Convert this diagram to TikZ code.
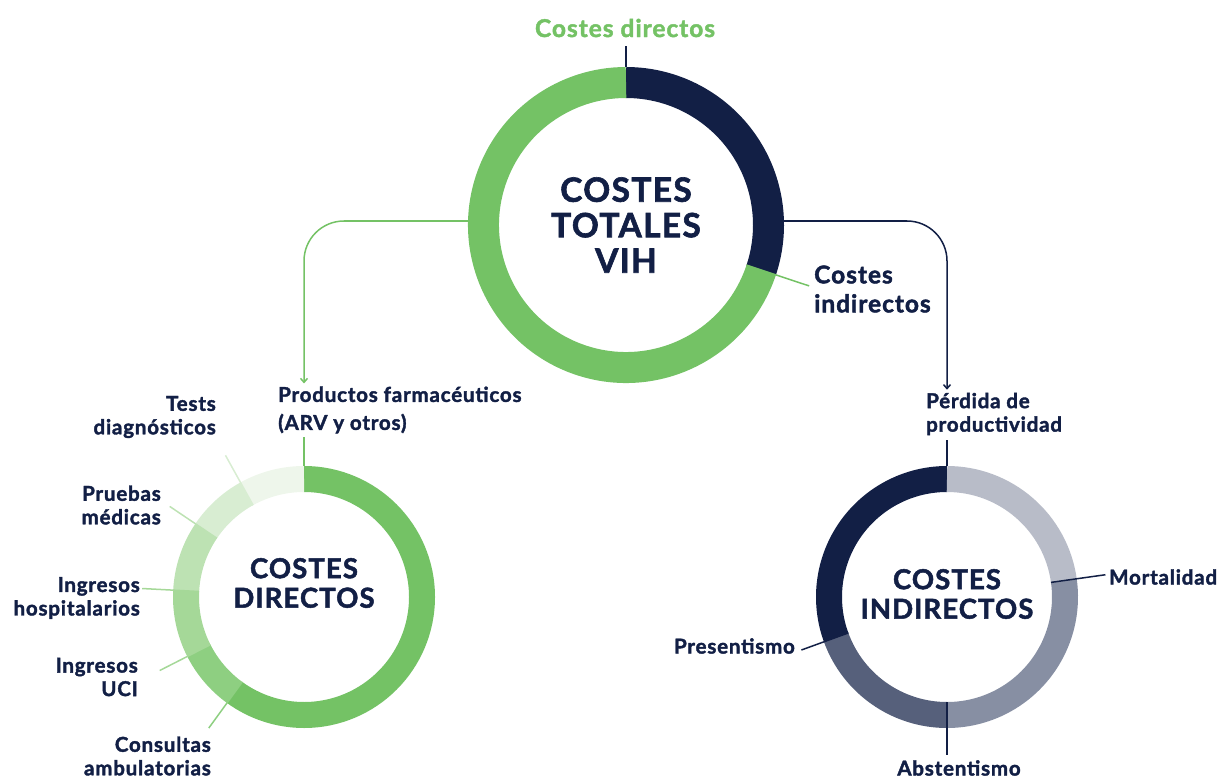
\documentclass[tikz,border=0pt]{standalone}
\usepackage{fontspec}
\setmainfont{Lato}[BoldFeatures={FakeBold=1.8, LetterSpace=4}]
\usetikzlibrary{arrows.meta}

\definecolor{vgreen}{HTML}{74C265}
\definecolor{vnavy}{HTML}{121F45}
\definecolor{gA}{HTML}{8ECF81}
\definecolor{gB}{HTML}{A5D898}
\definecolor{gC}{HTML}{BDE2B3}
\definecolor{gD}{HTML}{D8EDD2}
\definecolor{gE}{HTML}{EEF6EB}
\definecolor{nA}{HTML}{56607B}
\definecolor{nB}{HTML}{878FA3}
\definecolor{nC}{HTML}{B8BCC8}

\tikzstyle{bigtxt} = [font=\fontsize{33.5}{35.5}\selectfont\bfseries, text=vnavy, align=center, inner sep=0pt]
\tikzstyle{midtxt} = [font=\fontsize{27.5}{29.5}\selectfont\bfseries, text=vnavy, align=center, inner sep=0pt]
\tikzstyle{tagtxt} = [font=\fontsize{20.5}{23.5}\selectfont\bfseries, text=vnavy, inner sep=0pt]
\tikzstyle{hole} = [circle, inner sep=0pt]
\tikzstyle{conn} = [line width=1.5pt, rounded corners=40pt, -{Straight Barb[length=4pt,width=7pt]}]
\tikzstyle{lead} = [line width=1.5pt]

\begin{document}
\begin{tikzpicture}[x=1pt, y=-1pt]
	\useasboundingbox (0,0) rectangle (1223,778);

	\node [hole, minimum size=316pt, bigtxt] at (626,225) (tot) {COSTES\\TOTALES\\VIH};
	\node [hole, minimum size=262pt] at (304,597) (dirc) {};
	\node [midtxt] at (304,583) (dirt) {COSTES\\DIRECTOS};
	\node [hole, minimum size=262pt] at (947,597) (indc) {};
	\node [midtxt] at (947,594) (indt) {COSTES\\INDIRECTOS};

	\node [tagtxt, text=vgreen, font=\fontsize{24.5}{29}\selectfont\bfseries] at (625,28) (lcdir) {Costes directos};
	\node [tagtxt, font=\fontsize{24.5}{29}\selectfont\bfseries, anchor=west, align=left] at (814,289) (lcind) {Costes\\indirectos};
	\node [tagtxt, font=\fontsize{20.5}{28}\selectfont\bfseries, anchor=west, align=left] at (278,410) (lprod) {Productos farmacéuticos\\(ARV y otros)};
	\node [tagtxt, anchor=east, align=right] at (216,417) (ltest) {Tests\\diagnósticos};
	\node [tagtxt, anchor=east, align=right] at (161,505) (lprue) {Pruebas\\médicas};
	\node [tagtxt, anchor=east, align=right] at (140,598) (lhosp) {Ingresos\\hospitalarios};
	\node [tagtxt, anchor=east, align=right] at (138,677) (luci) {Ingresos\\UCI};
	\node [tagtxt, anchor=east, align=right] at (211,756) (lcons) {Consultas\\ambulatorias};
	\node [tagtxt, anchor=west, align=left] at (926,414) (lperd) {Pérdida de\\productividad};
	\node [tagtxt, anchor=west] at (1109,577) (lmort) {Mortalidad};
	\node [tagtxt, anchor=east] at (795,646) (lpres) {Presentismo};
	\node [tagtxt] at (959,768) (labs) {Abstentismo};

	% rings
	\draw [vnavy, line width=31pt] (tot.center) ++(90:142.5pt) arc [start angle=90, end angle=-18.4, radius=142.5pt];
	\draw [vgreen, line width=31pt] (tot.center) ++(-18.4:142.5pt) arc [start angle=-18.4, end angle=-270, radius=142.5pt];

	\foreach \a/\b/\c in {90/-126/vgreen, -126/-153/gA, -153/-183/gB, -183/-214/gC, -214/-241/gD, -241/-270/gE}
		\draw [\c, line width=26pt] (dirc.center) ++(\a:118pt) arc [start angle=\a, end angle=\b, radius=118pt];
	\foreach \a/\b/\c in {90/200/vnavy, 200/270/nA, 270/368/nB, 368/450/nC}
		\draw [\c, line width=26pt] (indc.center) ++(\a:118pt) arc [start angle=\a, end angle=\b, radius=118pt];

	% connectors
	\draw [vgreen, conn] ([yshift=4pt]tot.west) -| ([yshift=3pt]dirc.north |- lprod.north);
	\draw [vnavy, conn] ([yshift=4pt]tot.east) -| ([yshift=3pt]indc.north |- lperd.north);
	\draw [vgreen, lead, shorten >=3pt] (dirc.north) -- (dirc.north |- lprod.south);
	\draw [vnavy, lead, shorten >=5pt] (indc.north) -- (indc.north |- lperd.south);
	\draw [vnavy, lead, shorten >=9pt] (tot.north) -- (tot.north |- lcdir.south);

	% leaders
	\path (tot.center) ++(-18.4:127pt) coordinate (ci1) ++(-18.4:66pt) coordinate (ci2);
	\draw [vgreen, lead] (ci1) -- (ci2);
	\foreach \a/\c in {119/gD, 146/gC, 177/gB, 207/gB, 234/gA}
	{
		\path (dirc.center) ++(\a:105pt) coordinate (d\a) ++(\a:57pt) coordinate (e\a);
		\draw [\c, lead] (d\a) -- (e\a);
	}
	\path (indc.center) ++(8:105pt) coordinate (m1) ++(8:55pt) coordinate (m2);
	\path (indc.center) ++(200:105pt) coordinate (p1) ++(200:50pt) coordinate (p2);
	\path (indc.center) ++(270:105pt) coordinate (a1);
	\draw [vnavy, lead] (m1) -- (m2);
	\draw [vnavy, lead] (p1) -- (p2);
	\draw [vnavy, lead, shorten >=5pt] (a1) -- (a1 |- labs.north);
\end{tikzpicture}
\end{document}
